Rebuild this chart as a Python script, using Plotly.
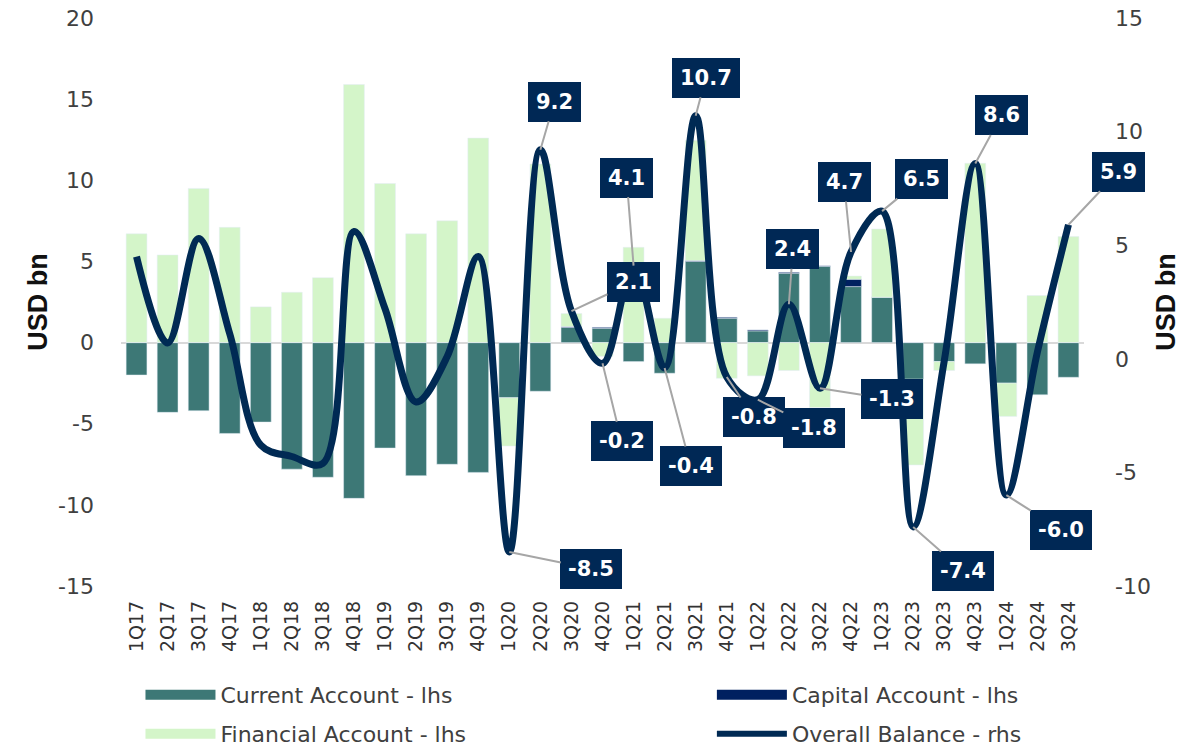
import plotly.graph_objects as go

quarters = ['1Q17','2Q17','3Q17','4Q17','1Q18','2Q18','3Q18','4Q18','1Q19','2Q19','3Q19','4Q19',
            '1Q20','2Q20','3Q20','4Q20','1Q21','2Q21','3Q21','4Q21','1Q22','2Q22','3Q22','4Q22',
            '1Q23','2Q23','3Q23','4Q23','1Q24','2Q24','3Q24']

current_account = [-2.0,-4.3,-4.2,-5.6,-4.9,-7.8,-8.3,-9.6,-6.5,-8.2,-7.5,-8.0,
                   -3.4,-3.0,0.93,0.88,-1.17,-1.89,5.0,1.5,0.72,4.27,4.7,3.45,
                   2.8,-2.26,-1.17,-1.31,-2.5,-3.22,-2.14]
capital_account = [0,0,0,0,0,0,0,0,0,0,0,0,
                   0,0,0.06,0.06,0,0,0.06,0.06,0.06,0.06,0.03,0.45,
                   0,0,0,0,0,0,0]
financial_account = [6.7,5.4,9.5,7.1,2.2,3.1,4.0,15.9,9.8,6.7,7.5,12.6,
                     -2.98,11.0,0.8,-0.85,5.87,1.5,7.4,-2.2,-2.05,-1.72,-4.0,0.2,
                     4.2,-5.28,-0.55,11.05,-2.05,2.9,6.53]
overall_balance = [4.5,0.7,5.3,1.1,-3.8,-4.3,-4.6,5.6,2.2,-1.9,0.1,4.5,
                   -8.5,9.2,2.1,-0.2,4.1,-0.4,10.7,-0.8,-1.8,2.4,-1.3,4.7,
                   6.5,-7.4,-0.1,8.6,-6.0,0.3,5.9]

lhs_ticks = [-15, -10, -5, 0, 5, 10, 15, 20]
lhs_tick_labels = ['-15', '-10', '-5', '0', '5', '10', '15', '20']
rhs_ticks = [-10, -5, 0, 5, 10, 15]
rhs_tick_labels = ['-10', '-5', '0', '5', '10', '15']

# labelled points: quarter -> (dx, dy) pixel offset of the label box
label_offsets = {
    '1Q20': (82, 17), '2Q20': (14, -48), '3Q20': (62, -29), '4Q20': (19, 78),
    '1Q21': (-7, -88), '2Q21': (26, 98), '3Q21': (10, -38), '4Q21': (27, 40),
    '1Q22': (56, 28), '2Q22': (4, -55), '3Q22': (72, 11), '4Q22': (-7, -70),
    '1Q23': (39, -32), '2Q23': (50, 44), '4Q23': (26, -48), '1Q24': (55, 35),
    '3Q24': (50, -53),
}

C_CA = '#3d7876'
C_KA = '#002060'
C_FA = '#d4f5c9'
C_LINE = '#002a54'
C_BOX = '#002855'

fig = go.Figure()
fig.add_trace(go.Bar(x=quarters, y=current_account, marker_color=C_CA, name='Current Account - lhs',
                     showlegend=False, yaxis='y'))
fig.add_trace(go.Bar(x=quarters, y=capital_account, marker_color=C_KA, name='Capital Account - lhs',
                     showlegend=False, yaxis='y'))
fig.add_trace(go.Bar(x=quarters, y=financial_account, marker_color=C_FA, name='Financial Account - lhs',
                     showlegend=False, yaxis='y'))
fig.add_trace(go.Scatter(x=quarters, y=overall_balance, mode='lines', name='Overall Balance - rhs',
                         line=dict(color=C_LINE, width=7, shape='spline', smoothing=1.0),
                         showlegend=False, yaxis='y2'))

# legend entries
legend_items = [('Current Account - lhs', C_CA, 14, 'legend'),
                ('Capital Account - lhs', C_KA, 14, 'legend2'),
                ('Financial Account - lhs', C_FA, 14, 'legend3'),
                ('Overall Balance - rhs', C_LINE, 6, 'legend4')]
for name, col, w, lg in legend_items:
    fig.add_trace(go.Scatter(x=[quarters[0]], y=[None], mode='lines', name=name,
                             line=dict(color=col, width=w), legend=lg, yaxis='y2'))

for q, (dx, dy) in label_offsets.items():
    i = quarters.index(q)
    v = overall_balance[i]
    fig.add_annotation(x=q, y=v, xref='x', yref='y2', text=f'<b>{v:.1f}</b>',
                       ax=dx, ay=dy, showarrow=True, arrowhead=0, arrowwidth=2,
                       arrowcolor='#a6a6a6', standoff=0, startstandoff=0,
                       bgcolor=C_BOX, bordercolor=C_BOX, borderwidth=1, borderpad=7,
                       font=dict(family='DejaVu Sans', size=21, color='white'))

tick_font = dict(family='DejaVu Sans', size=22, color='#404040')
leg_font = dict(family='DejaVu Sans', size=22, color='#404040')
title_font = dict(family='Liberation Sans Narrow, Liberation Sans', size=27, color='#111111')

def leg(x, y):
    return dict(x=x, y=y, xanchor='left', yanchor='middle', font=leg_font,
                bgcolor='rgba(0,0,0,0)', itemwidth=70, orientation='v')

L, R, T, B = 120.5, 118.5, 18, 162
W, H = 1203, 748
pw = W - L - R
ph = H - T - B
def px(xp):
    return (xp - L) / pw
def py(yp):
    return (H - B - yp) / ph

fig.update_layout(
    width=W, height=H,
    margin=dict(l=L, r=R, t=T, b=B, autoexpand=False),
    paper_bgcolor='white', plot_bgcolor='white',
    barmode='relative', bargap=0.33,
    xaxis=dict(type='category', range=[-0.5, len(quarters) - 0.5], tickangle=-90,
               tickfont=dict(family='DejaVu Sans', size=19, color='#333333'),
               showgrid=False, showline=False, ticks='', ticklabelstandoff=10),
    yaxis=dict(range=[-15, 20], tickvals=lhs_ticks, ticktext=lhs_tick_labels, tickfont=tick_font,
               showgrid=False, zeroline=True, zerolinecolor='#d9d9d9', zerolinewidth=2, showline=False,
               ticklabelstandoff=26,
               title=dict(text='<b>USD bn</b>', font=title_font, standoff=2)),
    yaxis2=dict(range=[-10, 15], tickvals=rhs_ticks, ticktext=rhs_tick_labels, overlaying='y', side='right',
                tickfont=tick_font, showgrid=False, zeroline=False, showline=False, ticklabelstandoff=30,
                title=dict(text='<b>USD bn</b>', font=title_font, standoff=6)),
    legend=leg(px(140), py(695)),
    legend2=leg(px(712), py(695)),
    legend3=leg(px(140), py(734)),
    legend4=leg(px(712), py(734)),
)

fig.write_html('out.html', config={'displayModeBar': False},
               post_script="document.body.style.margin='0';document.body.style.overflow='hidden';")
